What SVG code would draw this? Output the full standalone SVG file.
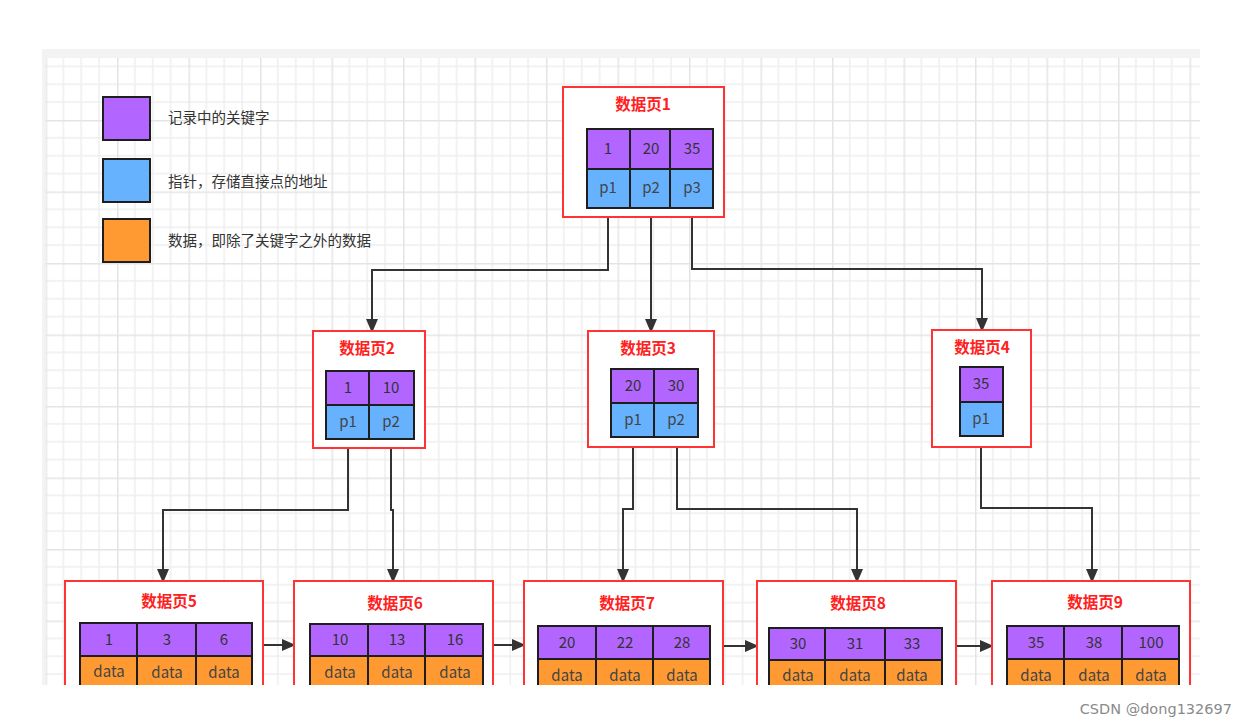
<svg xmlns="http://www.w3.org/2000/svg" width="1247" height="727" viewBox="0 0 1247 727">
<style>
  text { font-family: "Noto Sans CJK SC", "Noto Sans", "Liberation Sans", sans-serif; }
  .nb { fill: #ffffff; stroke: #ff3333; stroke-width: 2; }
  .k { fill: #b266ff; stroke: #1e1e1e; stroke-width: 2; }
  .p { fill: #66b2ff; stroke: #1e1e1e; stroke-width: 2; }
  .d { fill: #ff9a33; stroke: #1e1e1e; stroke-width: 2; }
  .t { fill: #ff2020; font-size: 15.5px; font-weight: bold; text-anchor: middle; }
  .c { fill: #333333; font-size: 15px; text-anchor: middle; }
  .cp { fill: #444444; font-size: 15px; text-anchor: middle; }
  .lg { fill: #333333; font-size: 14.5px; }
  .cn { fill: none; stroke: #333333; stroke-width: 2; }
</style>
<defs>
  <pattern id="grid" patternUnits="userSpaceOnUse" x="45.5" y="48.5" width="71.5" height="71.5">
    <rect width="71.5" height="71.5" fill="#ffffff"/>
    <path d="M17.875 0V71.5M35.75 0V71.5M53.625 0V71.5M0 17.875H71.5M0 35.75H71.5M0 53.625H71.5" stroke="#eeeeee" stroke-width="1.5"/>
    <path d="M0.75 0V71.5M0 0.75H71.5" stroke="#e4e4e4" stroke-width="1.5"/>
  </pattern>
  <marker id="arr" markerUnits="userSpaceOnUse" markerWidth="12" markerHeight="16" viewBox="0 0 12 16" refX="12" refY="6" orient="auto">
    <path d="M0 0L14 6L0 12Z" fill="#333333"/>
  </marker>
</defs>
<rect width="1247" height="727" fill="#ffffff"/>
<rect x="42" y="49" width="1158" height="636" fill="#f3f3f3"/>
<rect x="45.5" y="58" width="1154.5" height="627" fill="url(#grid)"/>

<g id="legend">
  <rect class="k" x="103" y="97" width="47" height="43"/>
  <text class="lg" x="168" y="123">记录中的关键字</text>
  <rect class="p" x="103" y="159" width="47" height="43"/>
  <text class="lg" x="168" y="187">指针，存储直接点的地址</text>
  <rect class="d" x="103" y="219" width="47" height="43"/>
  <text class="lg" x="168" y="246">数据，即除了关键字之外的数据</text>
</g>

<g id="connectors">
  <path class="cn" d="M608 208V270H372V331" marker-end="url(#arr)"/>
  <path class="cn" d="M651 208V331" marker-end="url(#arr)"/>
  <path class="cn" d="M692 208V269H982V330" marker-end="url(#arr)"/>
  <path class="cn" d="M348 439V510H163V581" marker-end="url(#arr)"/>
  <path class="cn" d="M391 439V510H393V581" marker-end="url(#arr)"/>
  <path class="cn" d="M633 437V509H623V581" marker-end="url(#arr)"/>
  <path class="cn" d="M677 437V509H857V581" marker-end="url(#arr)"/>
  <path class="cn" d="M981 436V508H1092V581" marker-end="url(#arr)"/>
  <path class="cn" d="M263 645H294" marker-end="url(#arr)"/>
  <path class="cn" d="M493 645H524" marker-end="url(#arr)"/>
  <path class="cn" d="M723 646H757" marker-end="url(#arr)"/>
  <path class="cn" d="M956 646H992" marker-end="url(#arr)"/>
</g>

<g id="page1">
  <rect class="nb" x="563" y="87" width="161" height="130"/>
  <text class="t" x="643" y="110">数据页1</text>
  <rect class="k" x="587" y="129" width="43" height="40"/>
  <rect class="k" x="630" y="129" width="40" height="40"/>
  <rect class="k" x="670" y="129" width="43" height="40"/>
  <rect class="p" x="587" y="169" width="43" height="39"/>
  <rect class="p" x="630" y="169" width="40" height="39"/>
  <rect class="p" x="670" y="169" width="43" height="39"/>
  <text class="c" x="608" y="154">1</text>
  <text class="c" x="651" y="154">20</text>
  <text class="c" x="692" y="154">35</text>
  <text class="cp" x="608" y="193">p1</text>
  <text class="cp" x="651" y="193">p2</text>
  <text class="cp" x="692" y="193">p3</text>
</g>

<g id="page2">
  <rect class="nb" x="313" y="331" width="112" height="117"/>
  <text class="t" x="367" y="354">数据页2</text>
  <rect class="k" x="326" y="371" width="43" height="34"/>
  <rect class="k" x="369" y="371" width="45" height="34"/>
  <rect class="p" x="326" y="405" width="43" height="34"/>
  <rect class="p" x="369" y="405" width="45" height="34"/>
  <text class="c" x="348" y="393">1</text>
  <text class="c" x="391" y="393">10</text>
  <text class="cp" x="348" y="427">p1</text>
  <text class="cp" x="391" y="427">p2</text>
</g>

<g id="page3">
  <rect class="nb" x="588" y="331" width="126" height="116"/>
  <text class="t" x="648" y="354">数据页3</text>
  <rect class="k" x="611" y="369" width="43" height="34"/>
  <rect class="k" x="654" y="369" width="44" height="34"/>
  <rect class="p" x="611" y="403" width="43" height="34"/>
  <rect class="p" x="654" y="403" width="44" height="34"/>
  <text class="c" x="633" y="391">20</text>
  <text class="c" x="676" y="391">30</text>
  <text class="cp" x="633" y="425">p1</text>
  <text class="cp" x="676" y="425">p2</text>
</g>

<g id="page4">
  <rect class="nb" x="932" y="330" width="99" height="117"/>
  <text class="t" x="982" y="353">数据页4</text>
  <rect class="k" x="960" y="367" width="43" height="35"/>
  <rect class="p" x="960" y="402" width="43" height="34"/>
  <text class="c" x="981" y="389">35</text>
  <text class="cp" x="981" y="424">p1</text>
</g>

<g id="page5">
  <rect class="nb" x="65" y="581" width="198" height="120"/>
  <text class="t" x="169" y="607">数据页5</text>
  <rect class="k" x="80" y="623" width="57" height="33"/>
  <rect class="k" x="137" y="623" width="59" height="33"/>
  <rect class="k" x="196" y="623" width="56" height="33"/>
  <rect class="d" x="80" y="656" width="57" height="34"/>
  <rect class="d" x="137" y="656" width="59" height="34"/>
  <rect class="d" x="196" y="656" width="56" height="34"/>
  <text class="c" x="109" y="645">1</text>
  <text class="c" x="167" y="645">3</text>
  <text class="c" x="224" y="645">6</text>
  <text class="cp" x="109" y="677">data</text>
  <text class="cp" x="167" y="678">data</text>
  <text class="cp" x="224" y="678">data</text>
</g>

<g id="page6">
  <rect class="nb" x="294" y="581" width="199" height="120"/>
  <text class="t" x="395" y="609">数据页6</text>
  <rect class="k" x="310" y="624" width="58" height="32"/>
  <rect class="k" x="368" y="624" width="57" height="32"/>
  <rect class="k" x="425" y="624" width="58" height="32"/>
  <rect class="d" x="310" y="656" width="58" height="34"/>
  <rect class="d" x="368" y="656" width="57" height="34"/>
  <rect class="d" x="425" y="656" width="58" height="34"/>
  <text class="c" x="340" y="645">10</text>
  <text class="c" x="397" y="645">13</text>
  <text class="c" x="455" y="645">16</text>
  <text class="cp" x="340" y="678">data</text>
  <text class="cp" x="397" y="678">data</text>
  <text class="cp" x="455" y="678">data</text>
</g>

<g id="page7">
  <rect class="nb" x="524" y="581" width="199" height="120"/>
  <text class="t" x="627" y="609">数据页7</text>
  <rect class="k" x="538" y="626" width="58" height="33"/>
  <rect class="k" x="596" y="626" width="57" height="33"/>
  <rect class="k" x="653" y="626" width="57" height="33"/>
  <rect class="d" x="538" y="659" width="58" height="34"/>
  <rect class="d" x="596" y="659" width="57" height="34"/>
  <rect class="d" x="653" y="659" width="57" height="34"/>
  <text class="c" x="567" y="648">20</text>
  <text class="c" x="625" y="648">22</text>
  <text class="c" x="682" y="648">28</text>
  <text class="cp" x="567" y="681">data</text>
  <text class="cp" x="625" y="681">data</text>
  <text class="cp" x="682" y="681">data</text>
</g>

<g id="page8">
  <rect class="nb" x="757" y="581" width="199" height="120"/>
  <text class="t" x="858" y="609">数据页8</text>
  <rect class="k" x="769" y="628" width="56" height="32"/>
  <rect class="k" x="825" y="628" width="60" height="32"/>
  <rect class="k" x="885" y="628" width="57" height="32"/>
  <rect class="d" x="769" y="660" width="56" height="34"/>
  <rect class="d" x="825" y="660" width="60" height="34"/>
  <rect class="d" x="885" y="660" width="57" height="34"/>
  <text class="c" x="798" y="649">30</text>
  <text class="c" x="855" y="649">31</text>
  <text class="c" x="912" y="649">33</text>
  <text class="cp" x="798" y="681">data</text>
  <text class="cp" x="855" y="681">data</text>
  <text class="cp" x="912" y="681">data</text>
</g>

<g id="page9">
  <rect class="nb" x="992" y="581" width="198" height="120"/>
  <text class="t" x="1095" y="608">数据页9</text>
  <rect class="k" x="1007" y="626" width="57" height="33"/>
  <rect class="k" x="1064" y="626" width="58" height="33"/>
  <rect class="k" x="1122" y="626" width="57" height="33"/>
  <rect class="d" x="1007" y="659" width="57" height="34"/>
  <rect class="d" x="1064" y="659" width="58" height="34"/>
  <rect class="d" x="1122" y="659" width="57" height="34"/>
  <text class="c" x="1036" y="648">35</text>
  <text class="c" x="1094" y="648">38</text>
  <text class="c" x="1151" y="648">100</text>
  <text class="cp" x="1036" y="681">data</text>
  <text class="cp" x="1094" y="681">data</text>
  <text class="cp" x="1151" y="681">data</text>
</g>

<rect x="0" y="685" width="1247" height="42" fill="#ffffff"/>
<text x="1232" y="714" text-anchor="end" style="font-family: 'DejaVu Sans', 'Liberation Sans', sans-serif; font-size: 14.5px; fill: #8a8a8a;">CSDN @dong132697</text>
</svg>
